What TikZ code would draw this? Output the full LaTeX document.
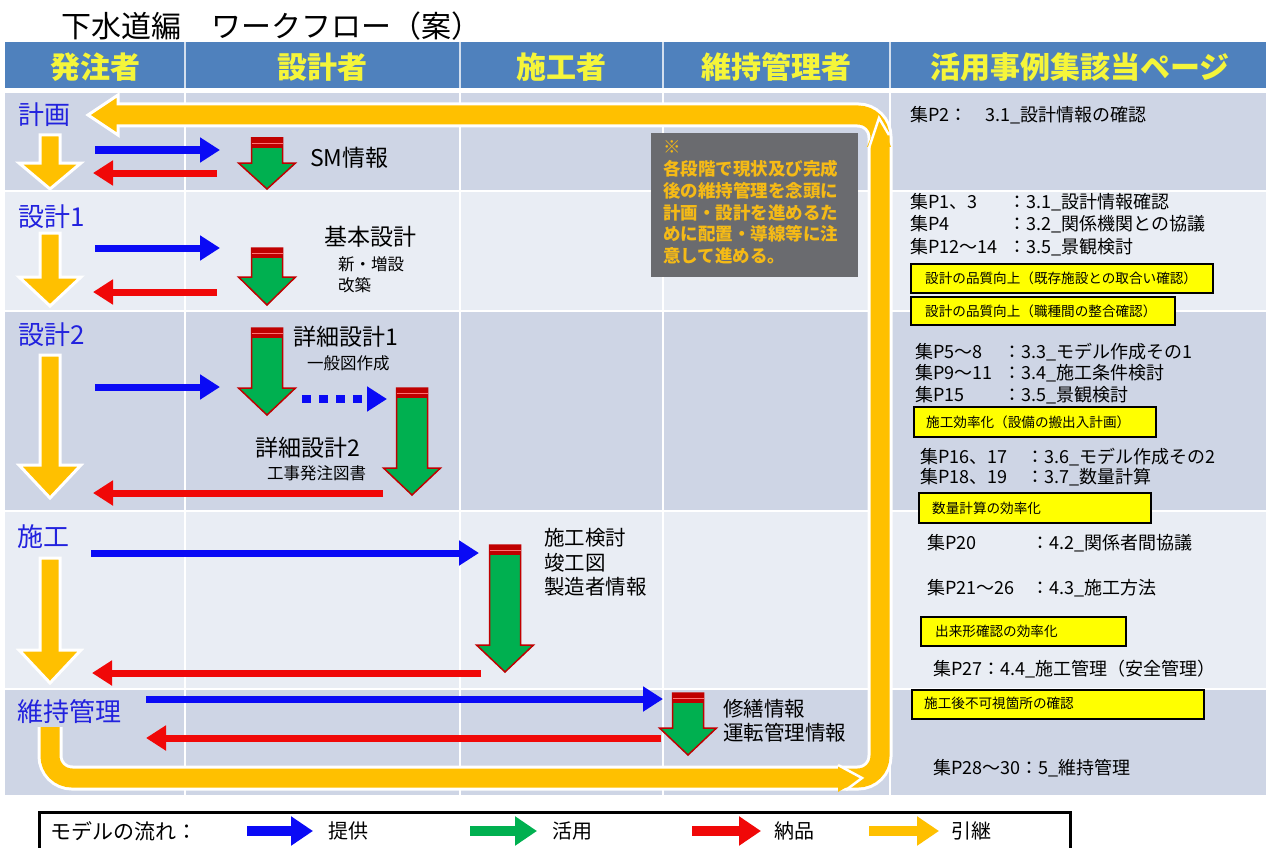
\documentclass[tikz,border=0pt]{standalone}
\usepackage{fontspec}
\setmainfont{Noto Sans CJK JP}
\usetikzlibrary{arrows.meta}
\definecolor{hdr}{HTML}{4F81BD}
\definecolor{hdrtext}{HTML}{F5F53A}
\definecolor{rowd}{RGB}{206,213,229}
\definecolor{rowl}{RGB}{233,237,244}
\definecolor{bluec}{RGB}{10,10,245}
\definecolor{redc}{RGB}{240,8,8}
\definecolor{gfill}{HTML}{00B050}
\definecolor{dred}{HTML}{C00000}
\definecolor{yfill}{HTML}{FFC000}
\definecolor{lblue}{RGB}{34,34,222}
\definecolor{notebg}{RGB}{106,107,111}
\definecolor{notetext}{RGB}{245,186,22}
\definecolor{memo}{HTML}{FFFF00}
\newcommand{\fz}[2]{\fontsize{#1}{#2}\selectfont}
\newcommand{\yarrowdown}[4]{\filldraw[fill=yfill, draw=white, line width=3, line join=miter] (#1-10,#2) -- (#1+10,#2) -- (#1+10,#3) -- (#1+31,#3) -- (#1,#4) -- (#1-31,#3) -- (#1-10,#3) -- cycle;}
\newcommand{\garrow}[4]{\filldraw[fill=gfill, draw=dred, line width=1.5] (#1-15.5,#2) -- (#1+15.5,#2) -- (#1+15.5,#3) -- (#1+28.5,#3) -- (#1,#4) -- (#1-28.5,#3) -- (#1-15.5,#3) -- cycle;
 \fill[dred] (#1-15.5,#2) rectangle (#1+15.5,#2+10);
 \draw[red!55!white, line width=0.8] (#1-15.5,#2+5.5) -- (#1+15.5,#2+5.5);}
\begin{document}
\begin{tikzpicture}[x=1pt,y=-1pt,
  hdrtxt/.style={inner sep=0pt, text=hdrtext, font=\bfseries\fz{30}{34}},
  phase/.style={anchor=west, inner sep=0pt, text=lblue, font=\fz{26}{30}},
  big/.style={anchor=west, inner sep=0pt, font=\fz{23}{27}},
  small/.style={anchor=west, inner sep=0pt, font=\fz{16.5}{20}},
  mid/.style={anchor=west, inner sep=0pt, align=left, font=\fz{20.5}{24.5}},
  ref/.style={anchor=west, inner sep=0pt, font=\fz{18}{22}},
  memobox/.style={fill=memo, draw=black, line width=1.5},
  memotxt/.style={anchor=west, inner sep=0pt, font=\fz{13.6}{15}},
  provide/.style={draw=bluec, line width=7, -{Triangle[length=20pt,width=24pt]}},
  deliver/.style={draw=redc, line width=7, -{Triangle[length=20pt,width=24pt]}},
  legarrow/.style={line width=10, -{Triangle[length=22pt,width=28pt]}},
  legtxt/.style={anchor=west, inner sep=0pt, font=\fz{20}{24}}]
\useasboundingbox (0,0) rectangle (1266,848);
\fill[white] (0,0) rectangle (1266,848);

% title
\node[anchor=west, inner sep=0pt, font=\fz{30}{34}] (title) at (61,26) {下水道編　ワークフロー（案）};

% header
\fill[hdr] (5,42) rectangle (1266,88);
\foreach \x in {185,460,663,890} \draw[white!75!hdr, line width=1.5] (\x,42) -- (\x,88);
\node[hdrtxt] (h1) at (95,67) {発注者};
\node[hdrtxt] (h2) at (322,67) {設計者};
\node[hdrtxt] (h3) at (561,67) {施工者};
\node[hdrtxt] (h4) at (776,67) {維持管理者};
\node[hdrtxt] (h5) at (1080,67) {活用事例集該当ページ};

% rows
\fill[rowd] (5,93) rectangle (1266,190);
\fill[rowl] (5,192) rectangle (1266,310);
\fill[rowd] (5,312) rectangle (1266,510);
\fill[rowl] (5,512) rectangle (1266,688);
\fill[rowd] (5,690) rectangle (1266,795);
\foreach \x in {185,460,663} \draw[white, line width=1.5] (\x,93) -- (\x,795);
\draw[white, line width=2] (890,93) -- (890,795);

% big hand-over loop
\draw[white, line width=25, rounded corners=22] (50,727) -- (50,778) -- (880,778) -- (880,115) -- (118,115);
\filldraw[fill=yfill, draw=white, line width=3, line join=miter] (118,95) -- (88,115) -- (118,135) -- cycle;
\draw[yfill, line width=19, rounded corners=22] (50,727) -- (50,778) -- (880,778) -- (880,115) -- (114,115);
\fill[yfill] (838,764) -- (862,778) -- (838,792) -- cycle;
\draw[white, line width=2.5, line join=miter] (838,765) -- (862,778) -- (846,790);
\fill[yfill] (867,147) -- (879,117) -- (891,147) -- cycle;
\draw[white, line width=2.5, line join=miter] (869,148) -- (879,118) -- (889,135);

% phase labels
\node[phase] (p1) at (18,115) {計画};
\node[phase] (p2) at (18,217) {設計1};
\node[phase] (p3) at (18,335) {設計2};
\node[phase] (p4) at (17,537) {施工};
\node[phase] (p5) at (17,712) {維持管理};

% hand-over arrows in the orderer column
\yarrowdown{50}{135}{163}{189}
\yarrowdown{50}{233}{277}{306}
\yarrowdown{50}{355}{465}{498}
\yarrowdown{50}{558}{650}{683}

% use arrows (green)
\garrow{267}{138}{163}{189}
\garrow{267}{248}{277}{305}
\garrow{267}{328}{388}{415}
\garrow{412}{388}{468}{495}
\garrow{505}{545}{645}{672}
\garrow{688}{693}{728}{755}

% coordinates for connectors
\coordinate (b1s) at (95,150);  \coordinate (b1e) at (220,150);
\coordinate (r1s) at (217,173); \coordinate (r1e) at (93,173);
\coordinate (b2s) at (95,248);  \coordinate (b2e) at (220,248);
\coordinate (r2s) at (217,292); \coordinate (r2e) at (93,292);
\coordinate (b3s) at (95,387);  \coordinate (b3e) at (220,387);
\coordinate (d3s) at (302,399); \coordinate (d3e) at (387,399);
\coordinate (r3s) at (383,493); \coordinate (r3e) at (93,493);
\coordinate (b4s) at (91,553);  \coordinate (b4e) at (479,553);
\coordinate (r4s) at (481,673); \coordinate (r4e) at (92,673);
\coordinate (b5s) at (146,699); \coordinate (b5e) at (663,699);
\coordinate (r5s) at (661,738); \coordinate (r5e) at (146,738);

\draw[provide] (b1s) -- (b1e);
\draw[deliver] (r1s) -- (r1e);
\draw[provide] (b2s) -- (b2e);
\draw[deliver] (r2s) -- (r2e);
\draw[provide] (b3s) -- (b3e);
\draw[draw=bluec, line width=8, dash pattern=on 9pt off 8pt, -{Triangle[length=20pt,width=24pt]}] (d3s) -- (d3e);
\draw[deliver] (r3s) -- (r3e);
\draw[provide] (b4s) -- (b4e);
\draw[deliver] (r4s) -- (r4e);
\draw[provide] (b5s) -- (b5e);
\draw[deliver] (r5s) -- (r5e);

% texts in the flow
\node[big] (sm) at (310,158) {SM情報};
\node[big] (kihon) at (324,237) {基本設計};
\node[small, align=left, font=\fz{16.5}{21}] (kihon2) at (338,274.5) {新・増設\\改築};
\node[big] (shosai1) at (293,337) {詳細設計1};
\node[small] (shosai1b) at (307,363) {一般図作成};
\node[big] (shosai2) at (255,448) {詳細設計2};
\node[small] (shosai2b) at (267,473) {工事発注図書};
\node[mid] (sekou) at (544,562.5) {施工検討\\竣工図\\製造者情報};
\node[mid] (iji) at (723,720.5) {修繕情報\\運転管理情報};

% note
\fill[notebg] (651,133) rectangle (858,277);
\node[anchor=west, inner sep=0pt, align=left, text=notetext, font=\bfseries\fz{17.5}{21.8}] (note) at (663,202.5) {※\\各段階で現状及び完成\\後の維持管理を念頭に\\計画・設計を進めるた\\めに配置・導線等に注\\意して進める。};

% reference column
\node[ref] (c1) at (910,115) {集P2：　3.1\_設計情報の確認};
\node[ref] (c2) at (910,202) {\makebox[98pt][l]{集P1、3}：3.1\_設計情報確認};
\node[ref] (c3) at (910,224) {\makebox[98pt][l]{集P4}：3.2\_関係機関との協議};
\node[ref] (c4) at (910,247) {\makebox[98pt][l]{集P12～14}：3.5\_景観検討};
\fill[memobox] (911,264) rectangle (1213,293);
\node[memotxt] (m1) at (925,278.5) {設計の品質向上（既存施設との取合い確認）};
\fill[memobox] (911,297) rectangle (1175,325);
\node[memotxt] (m2) at (925,311) {設計の品質向上（職種間の整合確認）};
\node[ref] (c5) at (915,352) {\makebox[88pt][l]{集P5～8}：3.3\_モデル作成その1};
\node[ref] (c6) at (915,373) {\makebox[88pt][l]{集P9～11}：3.4\_施工条件検討};
\node[ref] (c7) at (915,395) {\makebox[88pt][l]{集P15}：3.5\_景観検討};
\fill[memobox] (914,407) rectangle (1156,437);
\node[memotxt] (m3) at (926,422) {施工効率化（設備の搬出入計画）};
\node[ref] (c8) at (920,457) {\makebox[106pt][l]{集P16、17}：3.6\_モデル作成その2};
\node[ref] (c9) at (920,477) {\makebox[106pt][l]{集P18、19}：3.7\_数量計算};
\fill[memobox] (919,493) rectangle (1151,523);
\node[memotxt] (m4) at (932,508) {数量計算の効率化};
\node[ref] (c10) at (927,543) {\makebox[104pt][l]{集P20}：4.2\_関係者間協議};
\node[ref] (c11) at (927,588) {\makebox[104pt][l]{集P21～26}：4.3\_施工方法};
\fill[memobox] (921,617) rectangle (1126,646);
\node[memotxt] (m5) at (935,631.5) {出来形確認の効率化};
\node[ref] (c12) at (933,669) {集P27：4.4\_施工管理（安全管理）};
\fill[memobox] (912,690) rectangle (1204,719);
\node[memotxt] (m6) at (924,703) {施工後不可視箇所の確認};
\node[ref] (c13) at (933,768) {集P28～30：5\_維持管理};

% legend
\draw[black, line width=3, fill=white] (39,812) rectangle (1070,856);
\node[legtxt, font=\fz{21}{24}] (lg) at (50,831) {モデルの流れ：};
\coordinate (lb1) at (247,831); \coordinate (lb2) at (313,831);
\coordinate (lg1) at (470,831); \coordinate (lg2) at (537,831);
\coordinate (lr1) at (692,831); \coordinate (lr2) at (761,831);
\coordinate (ly1) at (869,831); \coordinate (ly2) at (939,831);
\draw[legarrow, draw=bluec] (lb1) -- (lb2);
\draw[legarrow, draw=gfill] (lg1) -- (lg2);
\draw[legarrow, draw=redc] (lr1) -- (lr2);
\draw[legarrow, draw=yfill] (ly1) -- (ly2);
\node[legtxt] (t1) at (328,831) {提供};
\node[legtxt] (t2) at (552,831) {活用};
\node[legtxt] (t3) at (774,831) {納品};
\node[legtxt] (t4) at (951,831) {引継};
\end{tikzpicture}
\end{document}
